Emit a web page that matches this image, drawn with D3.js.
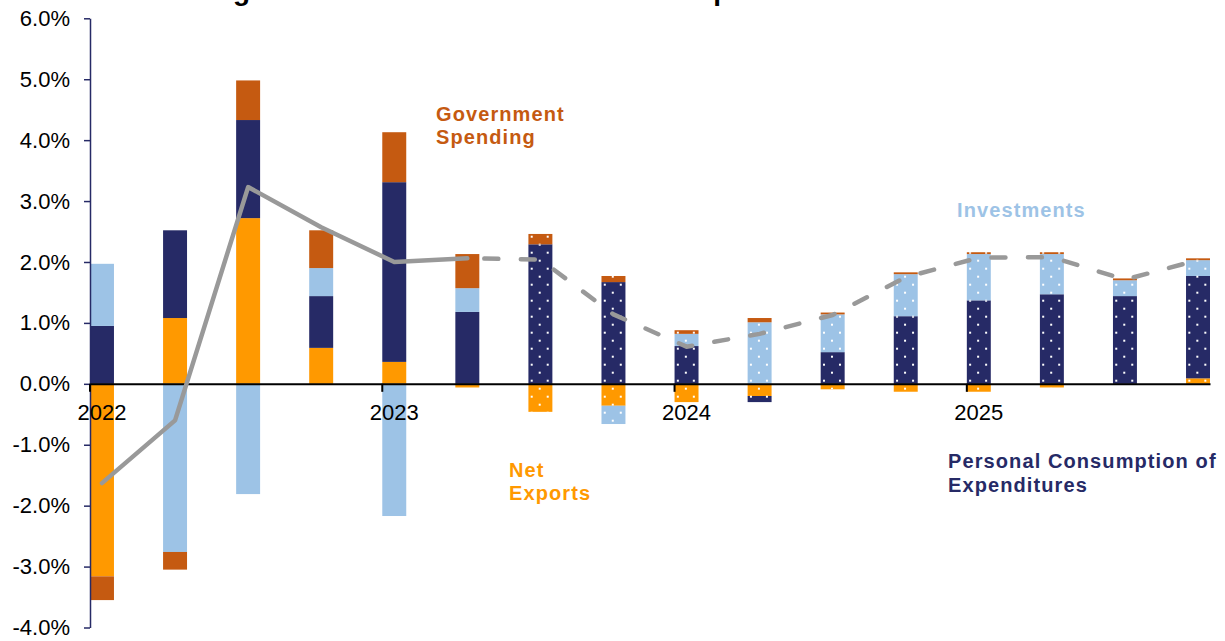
<!DOCTYPE html>
<html>
<head>
<meta charset="utf-8">
<script src="https://cdn.jsdelivr.net/npm/d3@7"></script>
<style>
  html, body { margin: 0; padding: 0; background: #fff; }
  svg { display: block; font-family: "Liberation Sans", Arial, sans-serif; }
</style>
</head>
<body>
<svg id="chart" width="1225" height="641"></svg>
<script>
// Quarterly real GDP growth and contribution of each component (percentage points)
const quarters = ["2022Q1","2022Q2","2022Q3","2022Q4","2023Q1","2023Q2","2023Q3","2023Q4",
                  "2024Q1","2024Q2","2024Q3","2024Q4","2025Q1","2025Q2","2025Q3","2025Q4"];
const netExports          = [-3.16, 1.08, 2.72, 0.59, 0.36, -0.06, -0.46, -0.36, -0.30, -0.20, -0.09, -0.13, -0.13, -0.06, 0.00, 0.09];
const personalConsumption = [ 0.95, 1.44, 1.61, 0.85, 2.95,  1.18,  2.29,  1.67,  0.62, -0.10,  0.52,  1.11,  1.37,  1.47, 1.44, 1.68];
const investments         = [ 1.02,-2.76,-1.81, 0.46,-2.17,  0.39,  0.00, -0.30,  0.20,  1.01,  0.62,  0.69,  0.76,  0.66, 0.26, 0.26];
const governmentSpending  = [-0.39,-0.29, 0.65, 0.62, 0.82,  0.56,  0.17,  0.10,  0.06,  0.07,  0.03,  0.03,  0.03,  0.03, 0.03, 0.03];
const gdpGrowth           = [-1.63,-0.60, 3.23, 2.57, 2.00,  2.06,  2.04,  1.14,  0.61,  0.82,  1.13,  1.75,  2.07,  2.08, 1.71, 2.03];
const firstForecast = 6;            // 2023Q3 onward is forecast
const yTicks = [-4, -3, -2, -1, 0, 1, 2, 3, 4, 5, 6];

const seriesKeys = ["netExports", "personalConsumption", "investments", "governmentSpending"];
const colors = {
  netExports: "#FF9900",
  personalConsumption: "#262A66",
  investments: "#9DC3E6",
  governmentSpending: "#C55A11"
};

const rows = quarters.map((q, i) => ({
  quarter: q,
  netExports: netExports[i],
  personalConsumption: personalConsumption[i],
  investments: investments[i],
  governmentSpending: governmentSpending[i]
}));

const svg = d3.select("#chart");
svg.append("rect").attr("width", 1225).attr("height", 641).attr("fill", "#fff");

const x = d3.scaleBand().domain(quarters).range([90, 1210]).paddingInner(0.672).paddingOuter(0);
const y = d3.scaleLinear().domain([-4, 6]).range([627.5, 18.3]);
const bw = x.bandwidth();

// Title (sits above the top edge)
svg.append("text")
  .attr("x", 208).attr("y", 0)
  .attr("font-size", 28).attr("font-weight", "bold").attr("fill", "#000")
  .text("Figure 1: Real GDP Forecast and Component Contribution");

// Dot patterns for the forecast bars, one per bar so dots line up with its left edge
const defs = svg.append("defs");
quarters.forEach((q, i) => {
  if (i < firstForecast) return;
  const p = defs.append("pattern")
    .attr("id", "dots-" + i)
    .attr("patternUnits", "userSpaceOnUse")
    .attr("width", 16).attr("height", 16)
    .attr("x", x(q) + 2.3).attr("y", 11.7);
  p.append("rect").attr("x", 0).attr("y", 0).attr("width", 2).attr("height", 2).attr("fill", "#fff");
  p.append("rect").attr("x", 8).attr("y", 8).attr("width", 2).attr("height", 2).attr("fill", "#fff");
});

// Stacked bars (positives and negatives stacked separately)
const stacked = d3.stack().keys(seriesKeys).offset(d3.stackOffsetDiverging)(rows);
const layers = svg.append("g").selectAll("g")
  .data(stacked).join("g")
  .attr("fill", d => colors[d.key]);

layers.selectAll("rect.seg")
  .data(d => d.filter(s => s[1] - s[0] !== 0))
  .join("rect")
  .attr("class", "seg")
  .attr("x", d => x(d.data.quarter))
  .attr("width", bw)
  .attr("y", d => y(Math.max(d[0], d[1])))
  .attr("height", d => Math.abs(y(d[0]) - y(d[1])));

layers.selectAll("rect.dots")
  .data(d => d.filter(s => s[1] - s[0] !== 0 && quarters.indexOf(s.data.quarter) >= firstForecast))
  .join("rect")
  .attr("class", "dots")
  .attr("x", d => x(d.data.quarter))
  .attr("width", bw)
  .attr("y", d => y(Math.max(d[0], d[1])))
  .attr("height", d => Math.abs(y(d[0]) - y(d[1])))
  .attr("fill", d => "url(#dots-" + quarters.indexOf(d.data.quarter) + ")");

// Y axis
const yAxis = svg.append("g")
  .attr("transform", "translate(90,0)")
  .call(d3.axisLeft(y).tickValues(yTicks).tickFormat(d => d.toFixed(1) + "%")
        .tickSize(6).tickSizeOuter(0).tickPadding(14));
yAxis.select(".domain").attr("stroke", "#262A66").attr("stroke-width", 1.5);
yAxis.selectAll(".tick line").attr("stroke", "#262A66").attr("stroke-width", 1.5);
yAxis.selectAll(".tick text")
  .attr("font-size", 22).attr("fill", "#000")
  .attr("font-family", "'Liberation Sans', Arial, sans-serif");

// X axis along zero, year ticks at the start of each year
const yearStarts = quarters.filter(q => q.endsWith("Q1"));
const xAxis = svg.append("g")
  .attr("transform", `translate(0,${y(0)})`)
  .call(d3.axisBottom(x).tickValues(yearStarts).tickFormat(q => q.slice(0, 4))
        .tickSize(8).tickSizeOuter(0));
xAxis.select(".domain").attr("stroke", "#000").attr("stroke-width", 2);
xAxis.selectAll(".tick line")
  .attr("x1", -bw / 2).attr("x2", -bw / 2)
  .attr("stroke", "#000").attr("stroke-width", 2);
xAxis.selectAll(".tick text")
  .attr("y", 21).attr("dy", "0.71em")
  .attr("font-size", 22).attr("fill", "#000")
  .attr("font-family", "'Liberation Sans', Arial, sans-serif");

// GDP growth line: actuals solid, forecast dashed
const line = d3.line()
  .x(d => x(d.q) + bw / 2)
  .y(d => y(d.v));
const pts = quarters.map((q, i) => ({ q, v: gdpGrowth[i] }));
svg.append("path")
  .datum(pts.slice(0, firstForecast))
  .attr("d", line)
  .attr("fill", "none").attr("stroke", "#999999").attr("stroke-width", 4.5)
  .attr("stroke-linejoin", "round").attr("stroke-linecap", "round");
svg.append("path")
  .datum(pts.slice(firstForecast - 1))
  .attr("d", line)
  .attr("fill", "none").attr("stroke", "#999999").attr("stroke-width", 4.5)
  .attr("stroke-linejoin", "round").attr("stroke-linecap", "round")
  .attr("stroke-dasharray", "14,22.5").attr("stroke-dashoffset", 19.5);

// Component labels
const labels = [
  { lines: ["Government", "Spending"], x: 436, y: 120.7, color: colors.governmentSpending },
  { lines: ["Investments"], x: 957, y: 217.3, color: colors.investments },
  { lines: ["Net", "Exports"], x: 509, y: 476.7, color: colors.netExports },
  { lines: ["Personal Consumption of", "Expenditures"], x: 948, y: 468.3, color: colors.personalConsumption }
];
labels.forEach(l => {
  const t = svg.append("text")
    .attr("x", l.x).attr("y", l.y)
    .attr("font-size", 20).attr("font-weight", "bold")
    .attr("letter-spacing", 1.1)
    .attr("fill", l.color);
  l.lines.forEach((s, k) => {
    t.append("tspan").attr("x", l.x).attr("dy", k === 0 ? 0 : 23.5).text(s);
  });
});
</script>
</body>
</html>
